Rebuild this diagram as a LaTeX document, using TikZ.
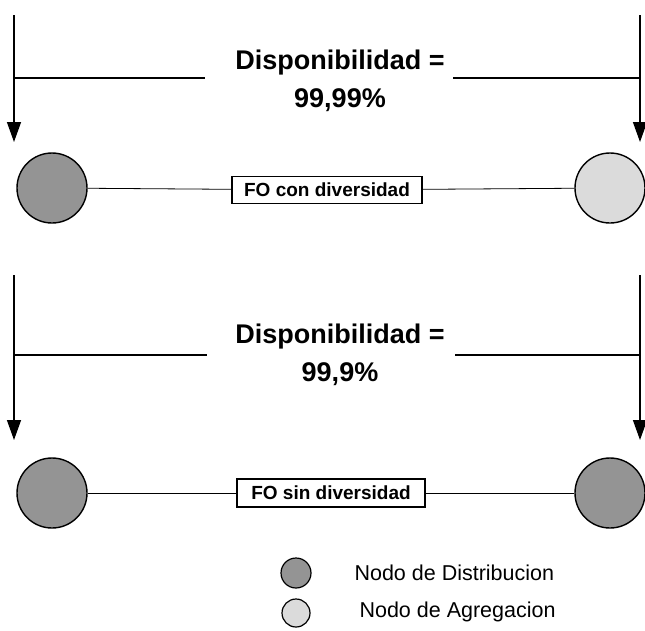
\documentclass[tikz,border=0pt]{standalone}
\usepackage{fontspec}
\setmainfont{Liberation Sans}
\usetikzlibrary{arrows.meta}
\definecolor{distgray}{gray}{0.58}
\definecolor{agrgray}{gray}{0.86}
\tikzset{
  distnode/.style={circle,draw=black,line width=1.4pt,fill=distgray,minimum size=70pt,inner sep=0pt},
  agrnode/.style={circle,draw=black,line width=1.4pt,fill=agrgray,minimum size=70pt,inner sep=0pt},
  legdist/.style={distnode,minimum size=30pt,line width=1.2pt},
  legagr/.style={agrnode,minimum size=28pt,line width=1.2pt},
  fobox/.style={draw=black,line width=1.1pt,fill=white,minimum width=190pt,minimum height=27pt,inner sep=0pt,font=\fontsize{19}{22}\selectfont\bfseries},
  avail/.style={align=center,font=\fontsize{27}{38}\selectfont\bfseries},
  legtext/.style={anchor=west,font=\fontsize{21.5}{25}\selectfont},
  link/.style={draw=black,line width=0.8pt},
  feed/.style={draw=black,line width=1.4pt,-{Triangle[length=20pt,width=14pt]}},
  bar/.style={draw=black,line width=1.2pt}
}
\begin{document}
\begin{tikzpicture}[x=1pt,y=-1pt]
\useasboundingbox (0,0) rectangle (645,630);
% ---------- top section ----------
\coordinate (t1L) at (14,15);
\coordinate (h1L) at (14,78);
\coordinate (a1L) at (14,142);
\coordinate (t1R) at (640,15);
\coordinate (h1R) at (640,78);
\coordinate (a1R) at (640,142);
\coordinate (g1L) at (205,78);
\coordinate (g1R) at (453,78);
\node[avail] (av1) at (340,81) {Disponibilidad =\\99,99\%};
\draw[feed] (t1L) -- (a1L);
\draw[feed] (t1R) -- (a1R);
\draw[bar] (h1L) -- (g1L);
\draw[bar] (g1R) -- (h1R);
\node[distnode] (d1) at (52,188) {};
\node[agrnode] (g1) at (610,188) {};
\node[fobox] (b1) at (327,190) {FO con diversidad};
\draw[link] (d1) -- (b1);
\draw[link] (b1) -- (g1);
% ---------- lower section ----------
\coordinate (t2L) at (14,275);
\coordinate (h2L) at (14,355);
\coordinate (a2L) at (14,440);
\coordinate (t2R) at (640,275);
\coordinate (h2R) at (640,355);
\coordinate (a2R) at (640,440);
\coordinate (g2L) at (207,355);
\coordinate (g2R) at (455,355);
\node[avail] (av2) at (340,355) {Disponibilidad =\\99,9\%};
\draw[feed] (t2L) -- (a2L);
\draw[feed] (t2R) -- (a2R);
\draw[bar] (h2L) -- (g2L);
\draw[bar] (g2R) -- (h2R);
\node[distnode] (d2) at (52,493) {};
\node[distnode] (d3) at (610,493) {};
\node[fobox,minimum width=188pt,minimum height=28pt] (b2) at (331,493) {FO sin diversidad};
\draw[link] (d2) -- (b2);
\draw[link] (b2) -- (d3);
% ---------- legend ----------
\node[legdist] (ld) at (296,573) {};
\node[legagr] (la) at (296,613) {};
\node[legtext] (ldt) at (351,573) {Nodo de Distribucion};
\node[legtext] (lat) at (356,612) {Nodo de Agregacion};
\end{tikzpicture}
\end{document}
